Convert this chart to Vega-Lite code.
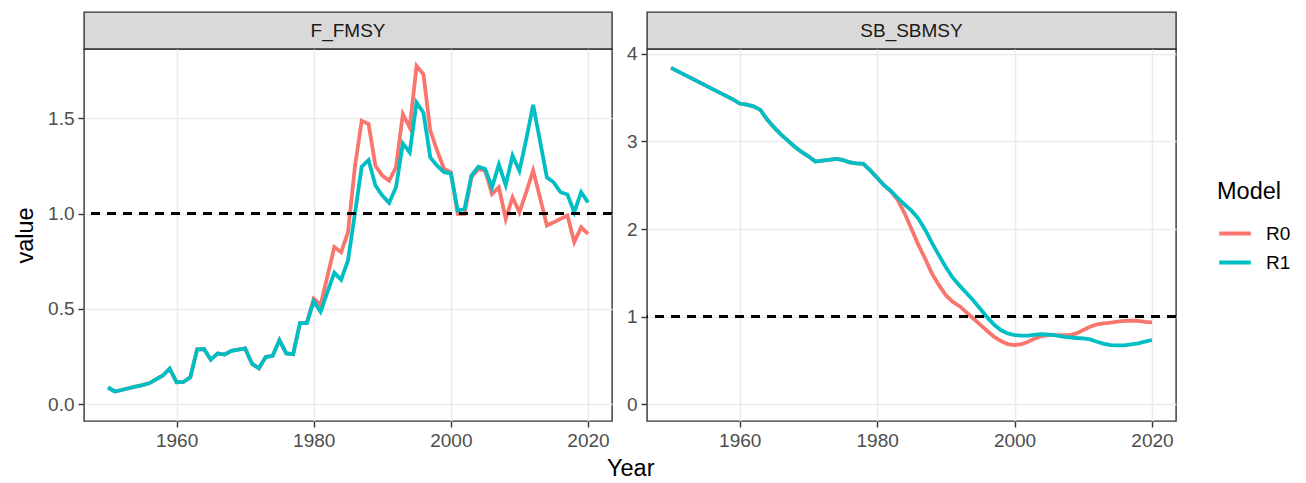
{
  "$schema": "https://vega.github.io/schema/vega-lite/v6.json",
  "background": "white",
  "padding": {"left": 12, "top": 11, "right": 0, "bottom": 4},
  "datasets": {
    "strips": [{"metric": "F_FMSY"}, {"metric": "SB_SBMSY"}],
    "d": [
      {"metric":"F_FMSY","Year":1950,"R0":0.087,"R1":0.087},
      {"metric":"F_FMSY","Year":1951,"R0":0.066,"R1":0.066},
      {"metric":"F_FMSY","Year":1952,"R0":0.074,"R1":0.074},
      {"metric":"F_FMSY","Year":1953,"R0":0.083,"R1":0.083},
      {"metric":"F_FMSY","Year":1954,"R0":0.092,"R1":0.092},
      {"metric":"F_FMSY","Year":1955,"R0":0.100,"R1":0.100},
      {"metric":"F_FMSY","Year":1956,"R0":0.109,"R1":0.109},
      {"metric":"F_FMSY","Year":1957,"R0":0.130,"R1":0.130},
      {"metric":"F_FMSY","Year":1958,"R0":0.150,"R1":0.150},
      {"metric":"F_FMSY","Year":1959,"R0":0.186,"R1":0.186},
      {"metric":"F_FMSY","Year":1960,"R0":0.114,"R1":0.114},
      {"metric":"F_FMSY","Year":1961,"R0":0.116,"R1":0.116},
      {"metric":"F_FMSY","Year":1962,"R0":0.140,"R1":0.140},
      {"metric":"F_FMSY","Year":1963,"R0":0.287,"R1":0.287},
      {"metric":"F_FMSY","Year":1964,"R0":0.289,"R1":0.289},
      {"metric":"F_FMSY","Year":1965,"R0":0.233,"R1":0.233},
      {"metric":"F_FMSY","Year":1966,"R0":0.266,"R1":0.266},
      {"metric":"F_FMSY","Year":1967,"R0":0.260,"R1":0.260},
      {"metric":"F_FMSY","Year":1968,"R0":0.279,"R1":0.279},
      {"metric":"F_FMSY","Year":1969,"R0":0.286,"R1":0.286},
      {"metric":"F_FMSY","Year":1970,"R0":0.292,"R1":0.292},
      {"metric":"F_FMSY","Year":1971,"R0":0.212,"R1":0.212},
      {"metric":"F_FMSY","Year":1972,"R0":0.188,"R1":0.188},
      {"metric":"F_FMSY","Year":1973,"R0":0.247,"R1":0.247},
      {"metric":"F_FMSY","Year":1974,"R0":0.253,"R1":0.253},
      {"metric":"F_FMSY","Year":1975,"R0":0.336,"R1":0.336},
      {"metric":"F_FMSY","Year":1976,"R0":0.266,"R1":0.266},
      {"metric":"F_FMSY","Year":1977,"R0":0.262,"R1":0.262},
      {"metric":"F_FMSY","Year":1978,"R0":0.425,"R1":0.425},
      {"metric":"F_FMSY","Year":1979,"R0":0.425,"R1":0.425},
      {"metric":"F_FMSY","Year":1980,"R0":0.553,"R1":0.540},
      {"metric":"F_FMSY","Year":1981,"R0":0.520,"R1":0.485},
      {"metric":"F_FMSY","Year":1982,"R0":0.670,"R1":0.588},
      {"metric":"F_FMSY","Year":1983,"R0":0.824,"R1":0.689},
      {"metric":"F_FMSY","Year":1984,"R0":0.797,"R1":0.653},
      {"metric":"F_FMSY","Year":1985,"R0":0.902,"R1":0.754},
      {"metric":"F_FMSY","Year":1986,"R0":1.243,"R1":0.998},
      {"metric":"F_FMSY","Year":1987,"R0":1.487,"R1":1.246},
      {"metric":"F_FMSY","Year":1988,"R0":1.470,"R1":1.281},
      {"metric":"F_FMSY","Year":1989,"R0":1.251,"R1":1.147},
      {"metric":"F_FMSY","Year":1990,"R0":1.199,"R1":1.094},
      {"metric":"F_FMSY","Year":1991,"R0":1.173,"R1":1.056},
      {"metric":"F_FMSY","Year":1992,"R0":1.243,"R1":1.138},
      {"metric":"F_FMSY","Year":1993,"R0":1.522,"R1":1.368},
      {"metric":"F_FMSY","Year":1994,"R0":1.452,"R1":1.321},
      {"metric":"F_FMSY","Year":1995,"R0":1.775,"R1":1.583},
      {"metric":"F_FMSY","Year":1996,"R0":1.731,"R1":1.530},
      {"metric":"F_FMSY","Year":1997,"R0":1.435,"R1":1.295},
      {"metric":"F_FMSY","Year":1998,"R0":1.330,"R1":1.251},
      {"metric":"F_FMSY","Year":1999,"R0":1.234,"R1":1.217},
      {"metric":"F_FMSY","Year":2000,"R0":1.217,"R1":1.211},
      {"metric":"F_FMSY","Year":2001,"R0":0.998,"R1":1.016},
      {"metric":"F_FMSY","Year":2002,"R0":0.998,"R1":1.024},
      {"metric":"F_FMSY","Year":2003,"R0":1.190,"R1":1.200},
      {"metric":"F_FMSY","Year":2004,"R0":1.234,"R1":1.246},
      {"metric":"F_FMSY","Year":2005,"R0":1.225,"R1":1.234},
      {"metric":"F_FMSY","Year":2006,"R0":1.103,"R1":1.138},
      {"metric":"F_FMSY","Year":2007,"R0":1.138,"R1":1.257},
      {"metric":"F_FMSY","Year":2008,"R0":0.972,"R1":1.150},
      {"metric":"F_FMSY","Year":2009,"R0":1.085,"R1":1.304},
      {"metric":"F_FMSY","Year":2010,"R0":1.007,"R1":1.225},
      {"metric":"F_FMSY","Year":2011,"R0":1.112,"R1":1.391},
      {"metric":"F_FMSY","Year":2012,"R0":1.225,"R1":1.571},
      {"metric":"F_FMSY","Year":2013,"R0":1.085,"R1":1.382},
      {"metric":"F_FMSY","Year":2014,"R0":0.937,"R1":1.190},
      {"metric":"F_FMSY","Year":2015,"R0":0.954,"R1":1.164},
      {"metric":"F_FMSY","Year":2016,"R0":0.972,"R1":1.112},
      {"metric":"F_FMSY","Year":2017,"R0":0.990,"R1":1.100},
      {"metric":"F_FMSY","Year":2018,"R0":0.850,"R1":1.007},
      {"metric":"F_FMSY","Year":2019,"R0":0.928,"R1":1.112},
      {"metric":"F_FMSY","Year":2020,"R0":0.894,"R1":1.059},
      {"metric":"SB_SBMSY","Year":1950,"R0":3.840,"R1":3.840},
      {"metric":"SB_SBMSY","Year":1951,"R0":3.800,"R1":3.800},
      {"metric":"SB_SBMSY","Year":1952,"R0":3.760,"R1":3.760},
      {"metric":"SB_SBMSY","Year":1953,"R0":3.720,"R1":3.720},
      {"metric":"SB_SBMSY","Year":1954,"R0":3.680,"R1":3.680},
      {"metric":"SB_SBMSY","Year":1955,"R0":3.640,"R1":3.640},
      {"metric":"SB_SBMSY","Year":1956,"R0":3.600,"R1":3.600},
      {"metric":"SB_SBMSY","Year":1957,"R0":3.560,"R1":3.560},
      {"metric":"SB_SBMSY","Year":1958,"R0":3.520,"R1":3.520},
      {"metric":"SB_SBMSY","Year":1959,"R0":3.480,"R1":3.480},
      {"metric":"SB_SBMSY","Year":1960,"R0":3.433,"R1":3.433},
      {"metric":"SB_SBMSY","Year":1961,"R0":3.420,"R1":3.420},
      {"metric":"SB_SBMSY","Year":1962,"R0":3.400,"R1":3.400},
      {"metric":"SB_SBMSY","Year":1963,"R0":3.360,"R1":3.360},
      {"metric":"SB_SBMSY","Year":1964,"R0":3.250,"R1":3.250},
      {"metric":"SB_SBMSY","Year":1965,"R0":3.160,"R1":3.160},
      {"metric":"SB_SBMSY","Year":1966,"R0":3.080,"R1":3.080},
      {"metric":"SB_SBMSY","Year":1967,"R0":3.010,"R1":3.010},
      {"metric":"SB_SBMSY","Year":1968,"R0":2.940,"R1":2.940},
      {"metric":"SB_SBMSY","Year":1969,"R0":2.880,"R1":2.880},
      {"metric":"SB_SBMSY","Year":1970,"R0":2.830,"R1":2.830},
      {"metric":"SB_SBMSY","Year":1971,"R0":2.770,"R1":2.770},
      {"metric":"SB_SBMSY","Year":1972,"R0":2.780,"R1":2.780},
      {"metric":"SB_SBMSY","Year":1973,"R0":2.790,"R1":2.790},
      {"metric":"SB_SBMSY","Year":1974,"R0":2.800,"R1":2.800},
      {"metric":"SB_SBMSY","Year":1975,"R0":2.790,"R1":2.790},
      {"metric":"SB_SBMSY","Year":1976,"R0":2.760,"R1":2.760},
      {"metric":"SB_SBMSY","Year":1977,"R0":2.750,"R1":2.750},
      {"metric":"SB_SBMSY","Year":1978,"R0":2.745,"R1":2.745},
      {"metric":"SB_SBMSY","Year":1979,"R0":2.670,"R1":2.670},
      {"metric":"SB_SBMSY","Year":1980,"R0":2.585,"R1":2.585},
      {"metric":"SB_SBMSY","Year":1981,"R0":2.500,"R1":2.500},
      {"metric":"SB_SBMSY","Year":1982,"R0":2.430,"R1":2.435},
      {"metric":"SB_SBMSY","Year":1983,"R0":2.330,"R1":2.355},
      {"metric":"SB_SBMSY","Year":1984,"R0":2.180,"R1":2.280},
      {"metric":"SB_SBMSY","Year":1985,"R0":2.000,"R1":2.210},
      {"metric":"SB_SBMSY","Year":1986,"R0":1.820,"R1":2.120},
      {"metric":"SB_SBMSY","Year":1987,"R0":1.660,"R1":1.990},
      {"metric":"SB_SBMSY","Year":1988,"R0":1.490,"R1":1.840},
      {"metric":"SB_SBMSY","Year":1989,"R0":1.360,"R1":1.700},
      {"metric":"SB_SBMSY","Year":1990,"R0":1.245,"R1":1.565},
      {"metric":"SB_SBMSY","Year":1991,"R0":1.170,"R1":1.445},
      {"metric":"SB_SBMSY","Year":1992,"R0":1.120,"R1":1.355},
      {"metric":"SB_SBMSY","Year":1993,"R0":1.050,"R1":1.270},
      {"metric":"SB_SBMSY","Year":1994,"R0":0.980,"R1":1.185},
      {"metric":"SB_SBMSY","Year":1995,"R0":0.910,"R1":1.090},
      {"metric":"SB_SBMSY","Year":1996,"R0":0.840,"R1":0.995},
      {"metric":"SB_SBMSY","Year":1997,"R0":0.772,"R1":0.910},
      {"metric":"SB_SBMSY","Year":1998,"R0":0.722,"R1":0.848},
      {"metric":"SB_SBMSY","Year":1999,"R0":0.688,"R1":0.810},
      {"metric":"SB_SBMSY","Year":2000,"R0":0.677,"R1":0.791},
      {"metric":"SB_SBMSY","Year":2001,"R0":0.688,"R1":0.784},
      {"metric":"SB_SBMSY","Year":2002,"R0":0.715,"R1":0.784},
      {"metric":"SB_SBMSY","Year":2003,"R0":0.753,"R1":0.795},
      {"metric":"SB_SBMSY","Year":2004,"R0":0.780,"R1":0.800},
      {"metric":"SB_SBMSY","Year":2005,"R0":0.791,"R1":0.795},
      {"metric":"SB_SBMSY","Year":2006,"R0":0.791,"R1":0.787},
      {"metric":"SB_SBMSY","Year":2007,"R0":0.791,"R1":0.772},
      {"metric":"SB_SBMSY","Year":2008,"R0":0.791,"R1":0.764},
      {"metric":"SB_SBMSY","Year":2009,"R0":0.810,"R1":0.757},
      {"metric":"SB_SBMSY","Year":2010,"R0":0.848,"R1":0.753},
      {"metric":"SB_SBMSY","Year":2011,"R0":0.886,"R1":0.741},
      {"metric":"SB_SBMSY","Year":2012,"R0":0.913,"R1":0.715},
      {"metric":"SB_SBMSY","Year":2013,"R0":0.925,"R1":0.690},
      {"metric":"SB_SBMSY","Year":2014,"R0":0.932,"R1":0.676},
      {"metric":"SB_SBMSY","Year":2015,"R0":0.944,"R1":0.672},
      {"metric":"SB_SBMSY","Year":2016,"R0":0.952,"R1":0.672},
      {"metric":"SB_SBMSY","Year":2017,"R0":0.955,"R1":0.684},
      {"metric":"SB_SBMSY","Year":2018,"R0":0.952,"R1":0.695},
      {"metric":"SB_SBMSY","Year":2019,"R0":0.940,"R1":0.715},
      {"metric":"SB_SBMSY","Year":2020,"R0":0.936,"R1":0.734}
    ]
  },
  "config": {
    "font": "Liberation Sans",
    "view": {"stroke": "#333333", "strokeWidth": 1.4},
    "axis": {
      "domain": false,
      "gridColor": "#ebebeb",
      "gridWidth": 1.6,
      "tickColor": "#333333",
      "tickSize": 6,
      "tickWidth": 1.4,
      "labelFont": "Liberation Sans",
      "labelFontSize": 19,
      "labelColor": "#4d4d4d",
      "labelPadding": 4,
      "titleFont": "Liberation Sans",
      "titleFontSize": 23.5,
      "titleFontWeight": "normal",
      "titleColor": "#000000"
    }
  },
  "title": {
    "text": "Year",
    "orient": "bottom",
    "anchor": "start",
    "frame": "group",
    "font": "Liberation Sans",
    "fontSize": 23.5,
    "fontWeight": "normal",
    "color": "#000000",
    "offset": 6,
    "dx": 523
  },
  "spacing": 11,
  "hconcat": [
    {
      "bounds": "flush",
      "spacing": 0,
      "vconcat": [
        {
          "width": 528, "height": 37,
          "data": {"name": "strips"},
          "transform": [{"filter": "datum.metric == 'F_FMSY'"}],
          "view": {"fill": "#d9d9d9", "stroke": "#333333", "strokeWidth": 1.4},
          "mark": {"type": "text", "fontSize": 19, "color": "#1a1a1a", "font": "Liberation Sans"},
          "encoding": {"text": {"field": "metric"}}
        },
        {
          "width": 528, "height": 372,
          "data": {"name": "d"},
          "transform": [
            {"filter": "datum.metric == 'F_FMSY'"},
            {"fold": ["R0", "R1"], "as": ["Model", "value"]}
          ],
          "resolve": {"axis": {"x": "independent", "y": "independent"}},
          "layer": [
            {
              "mark": {"type": "line", "strokeWidth": 3.8},
              "encoding": {
                "x": {"field": "Year", "type": "quantitative",
                  "scale": {"domain": [1946.5, 2023.5], "nice": false, "zero": false},
                  "axis": {"orient": "bottom", "values": [1960, 1980, 2000, 2020], "format": "d", "title": null}},
                "y": {"field": "value", "type": "quantitative",
                  "scale": {"domain": [-0.0888, 1.8638], "nice": false, "zero": false},
                  "axis": {"orient": "left", "values": [0, 0.5, 1, 1.5], "format": ".1f", "title": "value", "titlePadding": 10}},
                "color": {"field": "Model", "type": "nominal",
                  "scale": {"domain": ["R0", "R1"], "range": ["#F8766D", "#00BFC4"]},
                  "legend": {
                    "orient": "none", "legendX": 1133, "legendY": 168,
                    "title": "Model", "titleFontSize": 23.5, "titleFontWeight": "normal", "titleColor": "#000000",
                    "titleFont": "Liberation Sans", "titlePadding": 12,
                    "labelFontSize": 19, "labelColor": "#000000", "labelFont": "Liberation Sans",
                    "symbolType": "stroke", "symbolSize": 1000, "symbolStrokeWidth": 4,
                    "labelOffset": 13, "rowPadding": 1
                  }}
              }
            },
            {
              "mark": {"type": "line", "strokeOpacity": 0},
              "encoding": {
                "x": {"field": "Year", "type": "quantitative",
                  "scale": {"domain": [1946.5, 2023.5], "nice": false, "zero": false},
                  "axis": {"orient": "top", "values": [1950, 1970, 1990, 2010], "labels": false, "ticks": false, "gridWidth": 0.8, "title": null}},
                "y": {"field": "value", "type": "quantitative",
                  "scale": {"domain": [-0.0888, 1.8638], "nice": false, "zero": false},
                  "axis": {"orient": "right", "values": [0.25, 0.75, 1.25, 1.75], "labels": false, "ticks": false, "gridWidth": 0.8, "title": null}},
                "detail": {"field": "Model"}
              }
            },
            {
              "mark": {"type": "rule", "strokeDash": [9, 7], "strokeWidth": 2, "color": "#000000"},
              "encoding": {"y": {"datum": 1, "axis": null}}
            }
          ]
        }
      ]
    },
    {
      "bounds": "flush",
      "spacing": 0,
      "vconcat": [
        {
          "width": 529, "height": 37,
          "data": {"name": "strips"},
          "transform": [{"filter": "datum.metric == 'SB_SBMSY'"}],
          "view": {"fill": "#d9d9d9", "stroke": "#333333", "strokeWidth": 1.4},
          "mark": {"type": "text", "fontSize": 19, "color": "#1a1a1a", "font": "Liberation Sans"},
          "encoding": {"text": {"field": "metric"}}
        },
        {
          "width": 529, "height": 372,
          "data": {"name": "d"},
          "transform": [
            {"filter": "datum.metric == 'SB_SBMSY'"},
            {"fold": ["R0", "R1"], "as": ["Model", "value"]}
          ],
          "resolve": {"axis": {"x": "independent", "y": "independent"}},
          "layer": [
            {
              "mark": {"type": "line", "strokeWidth": 3.8},
              "encoding": {
                "x": {"field": "Year", "type": "quantitative",
                  "scale": {"domain": [1946.5, 2023.5], "nice": false, "zero": false},
                  "axis": {"orient": "bottom", "values": [1960, 1980, 2000, 2020], "format": "d", "title": null}},
                "y": {"field": "value", "type": "quantitative",
                  "scale": {"domain": [-0.19, 4.055], "nice": false, "zero": false},
                  "axis": {"orient": "left", "values": [0, 1, 2, 3, 4], "format": "d", "title": null}},
                "color": {"field": "Model", "type": "nominal",
                  "scale": {"domain": ["R0", "R1"], "range": ["#F8766D", "#00BFC4"]}}
              }
            },
            {
              "mark": {"type": "line", "strokeOpacity": 0},
              "encoding": {
                "x": {"field": "Year", "type": "quantitative",
                  "scale": {"domain": [1946.5, 2023.5], "nice": false, "zero": false},
                  "axis": {"orient": "top", "values": [1950, 1970, 1990, 2010], "labels": false, "ticks": false, "gridWidth": 0.8, "title": null}},
                "y": {"field": "value", "type": "quantitative",
                  "scale": {"domain": [-0.19, 4.055], "nice": false, "zero": false},
                  "axis": {"orient": "right", "values": [0.5, 1.5, 2.5, 3.5], "labels": false, "ticks": false, "gridWidth": 0.8, "title": null}},
                "detail": {"field": "Model"}
              }
            },
            {
              "mark": {"type": "rule", "strokeDash": [9, 7], "strokeWidth": 2, "color": "#000000"},
              "encoding": {"y": {"datum": 1, "axis": null}}
            }
          ]
        }
      ]
    }
  ]
}
